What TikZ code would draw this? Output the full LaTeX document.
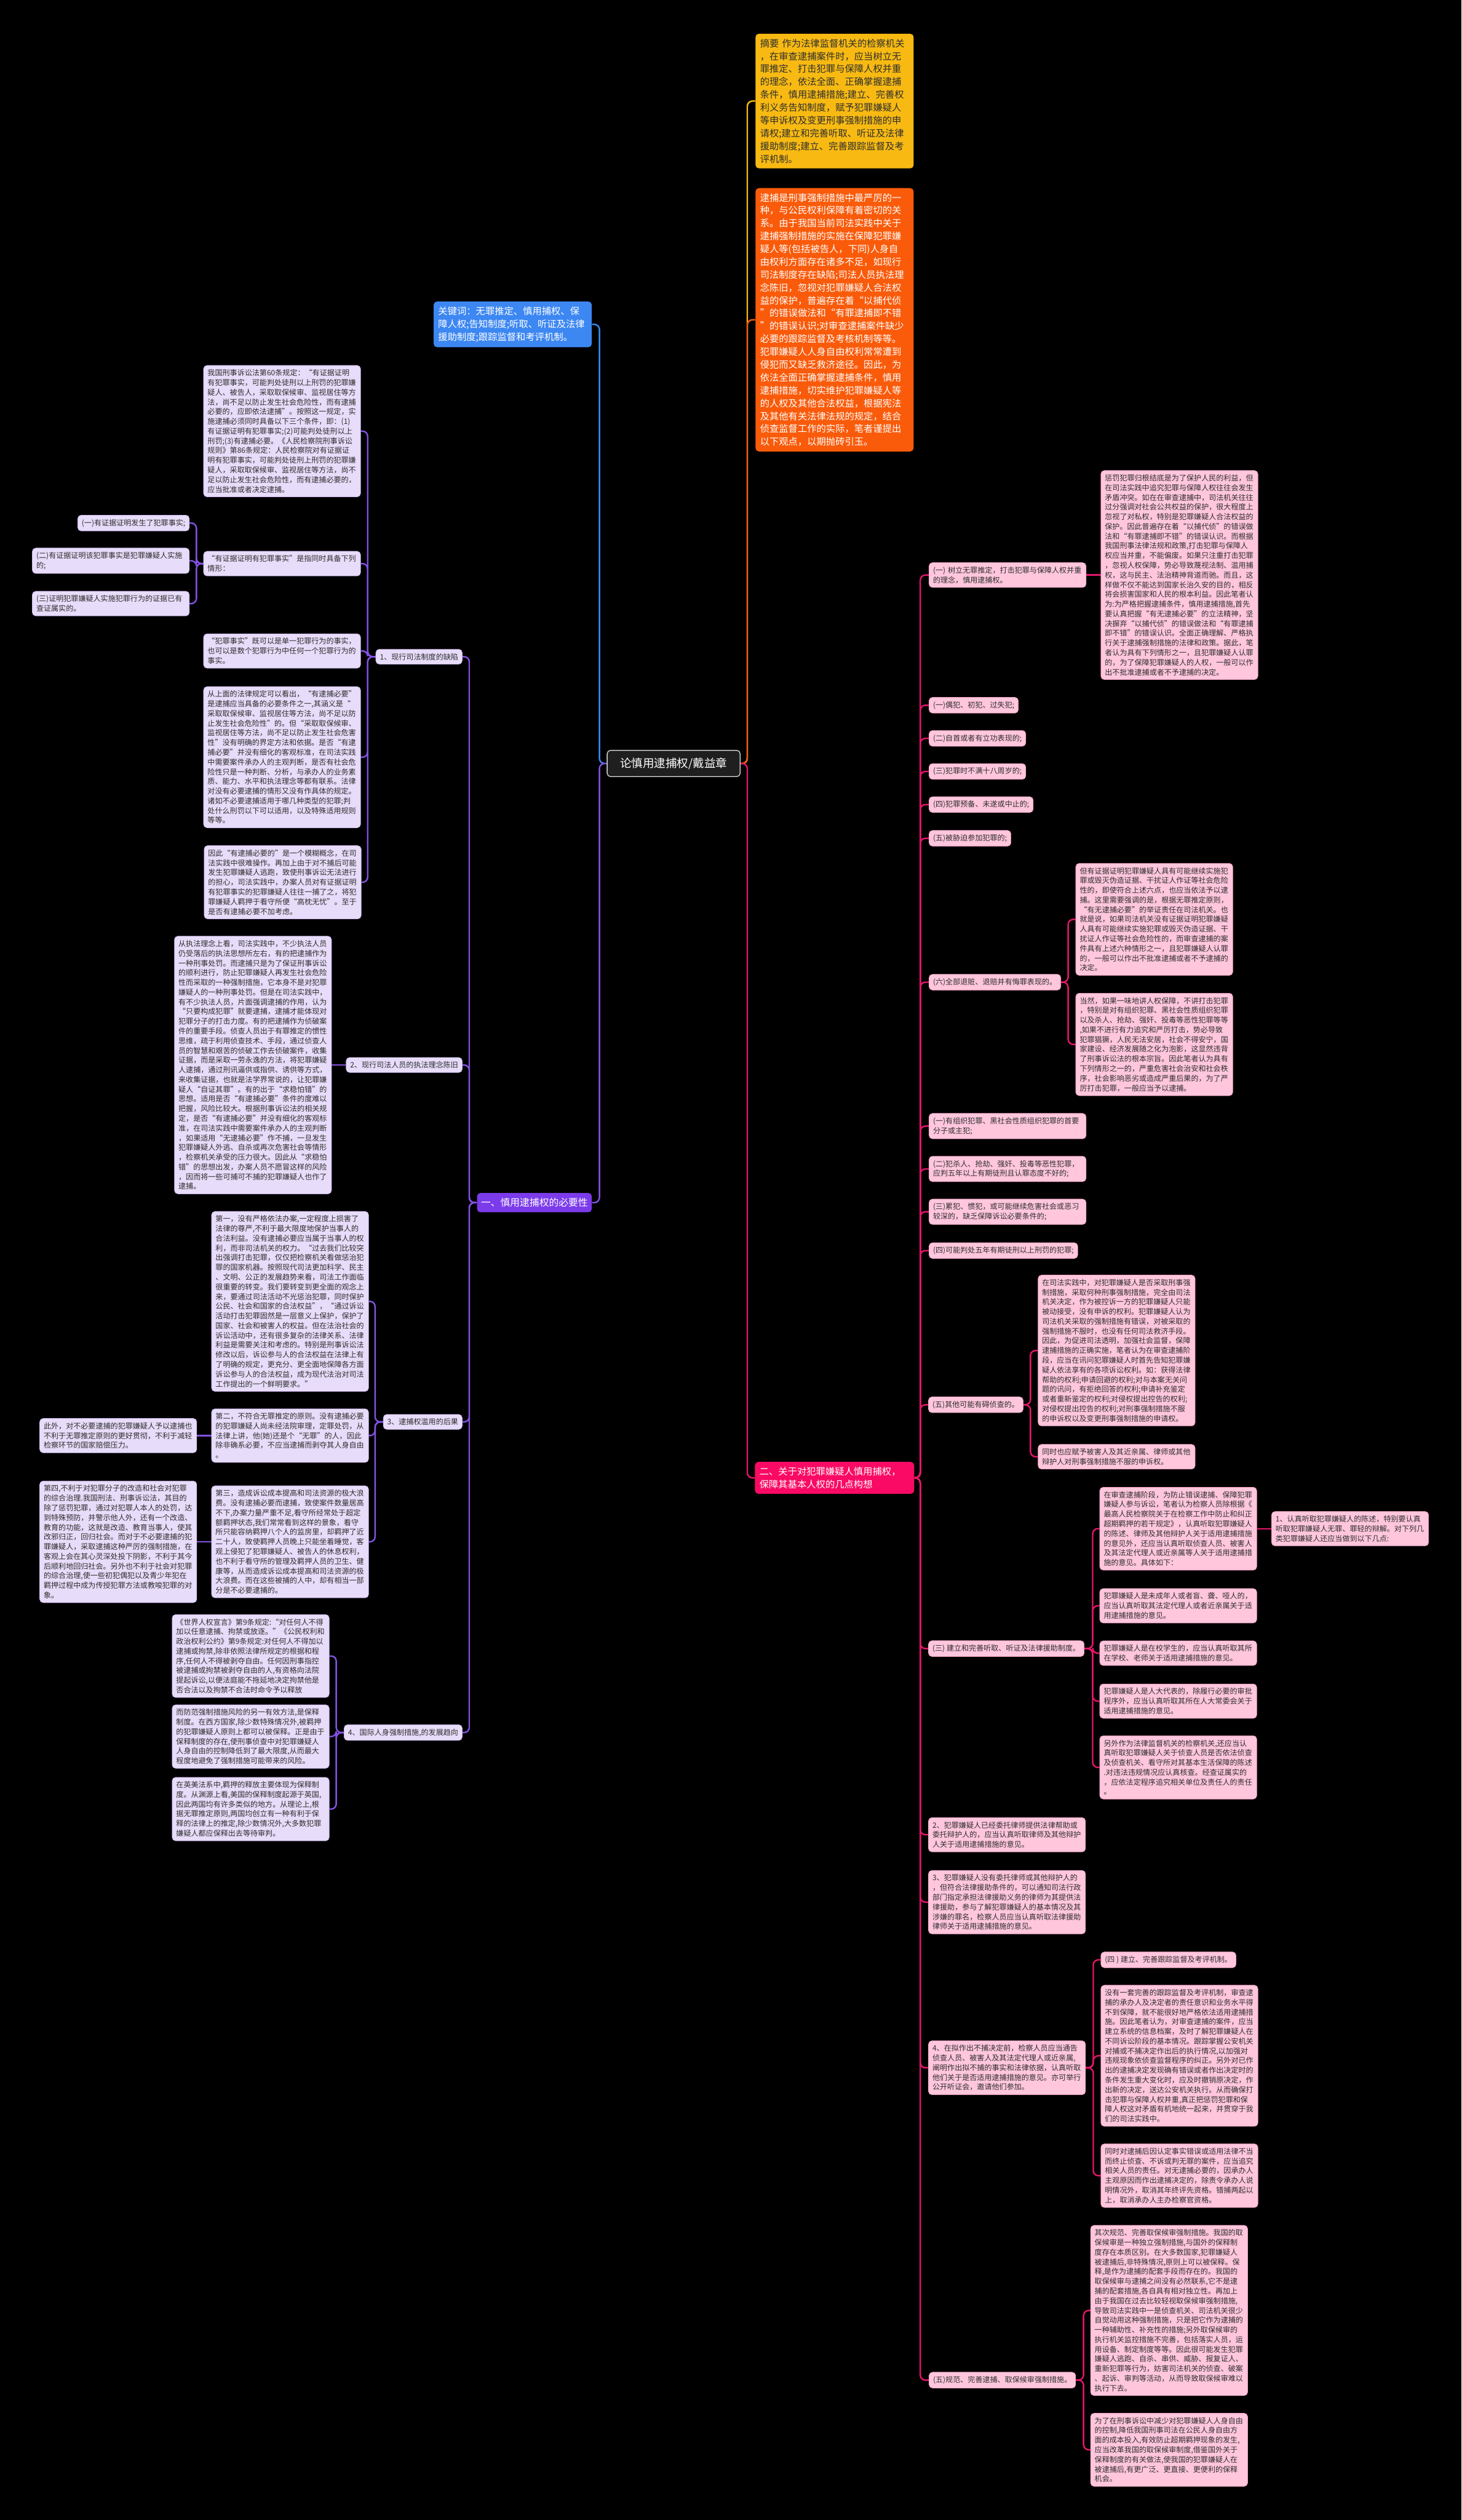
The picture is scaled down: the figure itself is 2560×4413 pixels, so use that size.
\documentclass[tikz,border=0pt]{standalone}
\usepackage{fontspec}
\setmainfont{Noto Sans CJK SC}
\usetikzlibrary{calc}
\pgfdeclarelayer{bgl}
\pgfdeclarelayer{lnl}
\pgfsetlayers{bgl,lnl,main}
\definecolor{lav}{HTML}{E7DCF9}
\definecolor{lavd}{HTML}{CDB8F2}
\definecolor{pk}{HTML}{FFC6DC}
\definecolor{pkd}{HTML}{F5A3C4}
\definecolor{txt}{HTML}{2E2E2E}
\definecolor{pur}{HTML}{8352E3}
\definecolor{purnode}{HTML}{7C3BEB}
\definecolor{crim}{HTML}{E5166A}
\definecolor{crimnode}{HTML}{FA0A64}
\definecolor{blu}{HTML}{3C87F2}
\definecolor{yel}{HTML}{F8BA12}
\definecolor{org}{HTML}{F95B0B}
\newcommand\mmL[4]{\draw[#1] (#2.west) -- (#2.west -| #3) -- (#4.east -| #3) -- (#4.east);}
\newcommand\mmR[4]{\draw[#1] (#2.east) -- (#2.east -| #3) -- (#4.west -| #3) -- (#4.west);}
\tikzset{
  bx/.style={rounded corners=6pt, inner xsep=7pt, inner ysep=7pt, align=left, line width=0.8pt},
  smtxt/.style={font=\fontsize{13}{17}\selectfont},
  lgtxt/.style={font=\fontsize{16.5}{22.5}\selectfont},
  lv/.style={bx, smtxt, anchor=east, fill=lav, draw=lavd, text=txt},
  pkb/.style={bx, smtxt, anchor=west, fill=pk, draw=pkd, text=txt},
  tw/.style={text width=261pt},
  bigb/.style={bx, lgtxt, inner xsep=8pt, inner ysep=9pt, text width=261pt},
  pl/.style={draw=pur, line width=2.6pt, rounded corners=9pt},
  cl/.style={draw=crim, line width=2.6pt, rounded corners=9pt},
}
\begin{document}
\begin{tikzpicture}[x=1pt,y=-1pt]
\begin{pgfonlayer}{bgl}
\fill[black] (0,0) rectangle (2560,4413);
\end{pgfonlayer}
\useasboundingbox (0,0) rectangle (2560,4413);

% ---------- root and main branches ----------
\node[bx, font=\fontsize{20}{24}\selectfont, fill=black!88!white, draw=white!85!black, line width=1.4pt, text=white, minimum width=233pt, minimum height=46pt, align=center, anchor=center] (root) at (1180,1337) {论慎用逮捕权/戴益章};

\node[bigb, anchor=east, fill=blu, text=white] (kw) at (1037,568) {关键词：无罪推定、慎用捕权、保\\障人权;告知制度;听取、听证及法律\\援助制度;跟踪监督和考评机制。};

\node[bigb, anchor=west, fill=yel, text=txt] (ysum) at (1323,177) {摘要 作为法律监督机关的检察机关\\，在审查逮捕案件时，应当树立无\\罪推定、打击犯罪与保障人权并重\\的理念，依法全面、正确掌握逮捕\\条件，慎用逮捕措施;建立、完善权\\利义务告知制度，赋予犯罪嫌疑人\\等申诉权及变更刑事强制措施的申\\请权;建立和完善听取、听证及法律\\援助制度;建立、完善跟踪监督及考\\评机制。};

\node[bigb, anchor=west, fill=org, text=white] (osum) at (1323,560) {逮捕是刑事强制措施中最严厉的一\\种，与公民权利保障有着密切的关\\系。由于我国当前司法实践中关于\\逮捕强制措施的实施在保障犯罪嫌\\疑人等(包括被告人，下同)人身自\\由权利方面存在诸多不足，如现行\\司法制度存在缺陷;司法人员执法理\\念陈旧，忽视对犯罪嫌疑人合法权\\益的保护，普遍存在着“以捕代侦\\”的错误做法和“有罪逮捕即不错\\”的错误认识;对审查逮捕案件缺少\\必要的跟踪监督及考核机制等等。\\犯罪嫌疑人人身自由权利常常遭到\\侵犯而又缺乏救济途径。因此，为\\依法全面正确掌握逮捕条件，慎用\\逮捕措施，切实维护犯罪嫌疑人等\\的人权及其他合法权益，根据宪法\\及其他有关法律法规的规定，结合\\侦查监督工作的实际，笔者谨提出\\以下观点，以期抛砖引玉。};

\node[bx, font=\fontsize{17}{22}\selectfont, anchor=east, fill=purnode, text=white, inner ysep=9pt] (yi) at (1037,2106) {一、慎用逮捕权的必要性};

\node[bigb, anchor=west, fill=crimnode, text=white, text width=263pt] (er) at (1322,2588) {二、关于对犯罪嫌疑人慎用捕权，\\保障其基本人权的几点构想};

% ---------- left: section one ----------
\node[lv] (n1) at (810,1150) {1、现行司法制度的缺陷};
\node[lv,tw] (a1) at (632,755) {我国刑事诉讼法第60条规定：“有证据证明\\有犯罪事实，可能判处徒刑以上刑罚的犯罪嫌\\疑人、被告人，采取取保候审、监视居住等方\\法，尚不足以防止发生社会危险性，而有逮捕\\必要的，应即依法逮捕”。按照这一规定，实\\施逮捕必须同时具备以下三个条件，即：(1)\\有证据证明有犯罪事实;(2)可能判处徒刑以上\\刑罚;(3)有逮捕必要。《人民检察院刑事诉讼\\规则》第86条规定：人民检察院对有证据证\\明有犯罪事实，可能判处徒刑上刑罚的犯罪嫌\\疑人，采取取保候审、监视居住等方法，尚不\\足以防止发生社会危险性，而有逮捕必要的，\\应当批准或者决定逮捕。};
\node[lv,tw] (a2) at (632,987) {“有证据证明有犯罪事实”是指同时具备下列\\情形：};
\node[lv] (b1) at (332,916) {(一)有证据证明发生了犯罪事实;};
\node[lv,tw] (b2) at (332,982) {(二)有证据证明该犯罪事实是犯罪嫌疑人实施\\的;};
\node[lv,tw] (b3) at (332,1057) {(三)证明犯罪嫌疑人实施犯罪行为的证据已有\\查证属实的。};
\node[lv,tw] (a3) at (632,1140) {“犯罪事实”既可以是单一犯罪行为的事实，\\也可以是数个犯罪行为中任何一个犯罪行为的\\事实。};
\node[lv,tw] (a4) at (632,1326) {从上面的法律规定可以看出，“有逮捕必要”\\是逮捕应当具备的必要条件之一,其涵义是“\\采取取保候审、监视居住等方法，尚不足以防\\止发生社会危险性”的。但“采取取保候审、\\监视居住等方法，尚不足以防止发生社会危害\\性”没有明确的界定方法和依据。是否“有逮\\捕必要”并没有细化的客观标准，在司法实践\\中需要案件承办人的主观判断，是否有社会危\\险性只是一种判断、分析，与承办人的业务素\\质、能力、水平和执法理念等都有联系。法律\\对没有必要逮捕的情形又没有作具体的规定。\\诸如不必要逮捕适用于哪几种类型的犯罪;判\\处什么刑罚以下可以适用，以及特殊适用规则\\等等。};
\node[lv,tw] (a5) at (633,1545) {因此“有逮捕必要的”是一个模糊概念，在司\\法实践中很难操作。再加上由于对不捕后可能\\发生犯罪嫌疑人逃跑，致使刑事诉讼无法进行\\的担心，司法实践中，办案人员对有证据证明\\有犯罪事实的犯罪嫌疑人往往一捕了之，将犯\\罪嫌疑人羁押于看守所便“高枕无忧”。至于\\是否有逮捕必要不加考虑。};

\node[lv] (n2) at (810,1865) {2、现行司法人员的执法理念陈旧};
\node[lv,tw] (c1) at (581,1865) {从执法理念上看，司法实践中，不少执法人员\\仍受落后的执法思想所左右，有的把逮捕作为\\一种刑事处罚。而逮捕只是为了保证刑事诉讼\\的顺利进行，防止犯罪嫌疑人再发生社会危险\\性而采取的一种强制措施，它本身不是对犯罪\\嫌疑人的一种刑事处罚。但是在司法实践中，\\有不少执法人员，片面强调逮捕的作用，认为\\“只要构成犯罪”就要逮捕，逮捕才能体现对\\犯罪分子的打击力度。有的把逮捕作为侦破案\\件的重要手段。侦查人员出于有罪推定的惯性\\思维，疏于利用侦查技术、手段，通过侦查人\\员的智慧和艰苦的侦破工作去侦破案件，收集\\证据，而是采取一劳永逸的方法，将犯罪嫌疑\\人逮捕，通过刑讯逼供或指供、诱供等方式，\\来收集证据，也就是法学界常说的，让犯罪嫌\\疑人“自证其罪”。有的出于“求稳怕错”的\\思想。适用是否“有逮捕必要”条件的度难以\\把握，风险比较大。根据刑事诉讼法的相关规\\定，是否“有逮捕必要”并没有细化的客观标\\准，在司法实践中需要案件承办人的主观判断\\，如果适用“无逮捕必要”作不捕，一旦发生\\犯罪嫌疑人外逃、自杀或再次危害社会等情形\\，检察机关承受的压力很大。因此从“求稳怕\\错”的思想出发，办案人员不愿冒这样的风险\\，因而将一些可捕可不捕的犯罪嫌疑人也作了\\逮捕。};

\node[lv] (n3) at (810,2490) {3、逮捕权滥用的后果};
\node[lv,tw] (d1) at (646,2279) {第一，没有严格依法办案,一定程度上损害了\\法律的尊严,不利于最大限度地保护当事人的\\合法利益。没有逮捕必要应当属于当事人的权\\利，而非司法机关的权力。“过去我们比较突\\出强调打击犯罪，仅仅把检察机关看做惩治犯\\罪的国家机器。按照现代司法更加科学、民主\\、文明、公正的发展趋势来看，司法工作面临\\很重要的转变。我们要转变到更全面的观念上\\来，要通过司法活动不光惩治犯罪，同时保护\\公民、社会和国家的合法权益”，“通过诉讼\\活动打击犯罪固然是一层意义上保护，保护了\\国家、社会和被害人的权益。但在法治社会的\\诉讼活动中，还有很多复杂的法律关系、法律\\利益是需要关注和考虑的。特别是刑事诉讼法\\修改以后，诉讼参与人的合法权益在法律上有\\了明确的规定，更充分、更全面地保障各方面\\诉讼参与人的合法权益，成为现代法治对司法\\工作提出的一个鲜明要求。”};
\node[lv,tw] (d2) at (646,2514) {第二，不符合无罪推定的原则。没有逮捕必要\\的犯罪嫌疑人尚未经法院审理，定罪处罚，从\\法律上讲，他(她)还是个“无罪”的人，因此\\除非确系必要，不应当逮捕而剥夺其人身自由\\。};
\node[lv,tw] (d2a) at (345,2514) {此外，对不必要逮捕的犯罪嫌疑人予以逮捕也\\不利于无罪推定原则的更好贯彻，不利于减轻\\检察环节的国家赔偿压力。};
\node[lv,tw] (d3) at (646,2700) {第三，造成诉讼成本提高和司法资源的极大浪\\费。没有逮捕必要而逮捕，致使案件数量居高\\不下,办案力量严重不足,看守所经常处于超定\\额羁押状态,我们常常看到这样的景象，看守\\所只能容纳羁押八个人的监房里，却羁押了近\\二十人，致使羁押人员晚上只能坐着睡觉，客\\观上侵犯了犯罪嫌疑人、被告人的休息权利，\\也不利于看守所的管理及羁押人员的卫生、健\\康等，从而造成诉讼成本提高和司法资源的极\\大浪费。而在这些被捕的人中，却有相当一部\\分是不必要逮捕的。};
\node[lv,tw] (d3a) at (345,2700) {第四,不利于对犯罪分子的改造和社会对犯罪\\的综合治理.我国刑法、刑事诉讼法，其目的\\除了惩罚犯罪，通过对犯罪人本人的处罚，达\\到特殊预防，并警示他人外，还有一个改造、\\教育的功能，这就是改造、教育当事人，使其\\改邪归正，回归社会。而对于不必要逮捕的犯\\罪嫌疑人，采取逮捕这种严厉的强制措施，在\\客观上会在其心灵深处投下阴影，不利于其今\\后顺利地回归社会。另外也不利于社会对犯罪\\的综合治理,使一些初犯偶犯以及青少年犯在\\羁押过程中成为传授犯罪方法或教唆犯罪的对\\象。};

\node[lv] (n4) at (810,3034) {4、国际人身强制措施,的发展趋向};
\node[lv,tw] (e1) at (577,2900) {《世界人权宣言》第9条规定:“对任何人不得\\加以任意逮捕、拘禁或放逐。”《公民权利和\\政治权利公约》第9条规定:对任何人不得加以\\逮捕或拘禁,除非依照法律所规定的根据和程\\序,任何人不得被剥夺自由。任何因刑事指控\\被逮捕或拘禁被剥夺自由的人,有资格向法院\\提起诉讼,以便法庭能不拖延地决定拘禁他是\\否合法以及拘禁不合法时命令予以释放};
\node[lv,tw] (e2) at (577,3041) {而防范强制措施风险的另一有效方法,是保释\\制度。在西方国家,除少数特殊情况外,被羁押\\的犯罪嫌疑人原则上都可以被保释。正是由于\\保释制度的存在,使刑事侦查中对犯罪嫌疑人\\人身自由的控制降低到了最大限度,从而最大\\程度地避免了强制措施可能带来的风险。};
\node[lv,tw] (e3) at (577,3168) {在英美法系中,羁押的释放主要体现为保释制\\度。从渊源上看,美国的保释制度起源于英国,\\因此两国均有许多类似的地方。从理论上,根\\据无罪推定原则,两国均创立有一种有利于保\\释的法律上的推定,除少数情况外,大多数犯罪\\嫌疑人都应保释出去等待审判。};

% ---------- right: section two ----------
\node[pkb,tw] (f1) at (1627,1007) {(一) 树立无罪推定，打击犯罪与保障人权并重\\的理念，慎用逮捕权。};
\node[pkb,tw] (f1a) at (1928,1007) {惩罚犯罪归根结底是为了保护人民的利益，但\\在司法实践中追究犯罪与保障人权往往会发生\\矛盾冲突。如在在审查逮捕中，司法机关往往\\过分强调对社会公共权益的保护，很大程度上\\忽视了对私权，特别是犯罪嫌疑人合法权益的\\保护。因此普遍存在着“以捕代侦”的错误做\\法和“有罪逮捕即不错”的错误认识。而根据\\我国刑事法律法规和政策,打击犯罪与保障人\\权应当并重，不能偏废。如果只注重打击犯罪\\，忽视人权保障，势必导致蔑视法制、滥用捕\\权，这与民主、法治精神背道而驰。而且，这\\样做不仅不能达到国家长治久安的目的，相反\\将会损害国家和人民的根本利益。因此笔者认\\为:为严格把握逮捕条件，慎用逮捕措施,首先\\要认真把握“有无逮捕必要”的立法精神，坚\\决摒弃“以捕代侦”的错误做法和“有罪逮捕\\即不错”的错误认识。全面正确理解、严格执\\行关于逮捕强制措施的法律和政策。据此，笔\\者认为具有下列情形之一，且犯罪嫌疑人认罪\\的，为了保障犯罪嫌疑人的人权，一般可以作\\出不批准逮捕或者不予逮捕的决定。};
\node[pkb] (f2) at (1627,1235) {(一)偶犯、初犯、过失犯;};
\node[pkb] (f3) at (1627,1293) {(二)自首或者有立功表现的;};
\node[pkb] (f4) at (1627,1351) {(三)犯罪时不满十八周岁的;};
\node[pkb] (f5) at (1627,1409) {(四)犯罪预备、未遂或中止的;};
\node[pkb] (f6) at (1627,1468) {(五)被胁迫参加犯罪的;};
\node[pkb] (f7) at (1627,1720) {(六)全部退赃、退赔并有悔罪表现的。};
\node[pkb,tw] (f7a) at (1884,1610) {但有证据证明犯罪嫌疑人具有可能继续实施犯\\罪或毁灭伪造证据、干扰证人作证等社会危险\\性的，即使符合上述六点，也应当依法予以逮\\捕。这里需要强调的是，根据无罪推定原则，\\“有无逮捕必要”的举证责任在司法机关。也\\就是说，如果司法机关没有证据证明犯罪嫌疑\\人具有可能继续实施犯罪或毁灭伪造证据、干\\扰证人作证等社会危险性的，而审查逮捕的案\\件具有上述六种情形之一，且犯罪嫌疑人认罪\\的，一般可以作出不批准逮捕或者不予逮捕的\\决定。};
\node[pkb,tw] (f7b) at (1884,1829) {当然，如果一味地讲人权保障，不讲打击犯罪\\，特别是对有组织犯罪、黑社会性质组织犯罪\\以及杀人、抢劫、强奸、投毒等恶性犯罪等等\\,如果不进行有力追究和严厉打击，势必导致\\犯罪猖獗，人民无法安居，社会不得安宁，国\\家建设、经济发展随之化为泡影，这显然违背\\了刑事诉讼法的根本宗旨。因此笔者认为具有\\下列情形之一的，严重危害社会治安和社会秩\\序，社会影响恶劣或造成严重后果的，为了严\\厉打击犯罪，一般应当予以逮捕。};
\node[pkb,tw] (f8) at (1627,1972) {(一)有组织犯罪、黑社会性质组织犯罪的首要\\分子或主犯;};
\node[pkb,tw] (f9) at (1627,2047) {(二)犯杀人、抢劫、强奸、投毒等恶性犯罪，\\应判五年以上有期徒刑且认罪态度不好的;};
\node[pkb,tw] (f10) at (1627,2122) {(三)累犯、惯犯，或可能继续危害社会或恶习\\较深的，缺乏保障诉讼必要条件的;};
\node[pkb] (f11) at (1627,2190) {(四)可能判处五年有期徒刑以上刑罚的犯罪;};
\node[pkb] (f12) at (1626,2460) {(五)其他可能有碍侦查的。};
\node[pkb,tw] (f12a) at (1818,2365) {在司法实践中，对犯罪嫌疑人是否采取刑事强\\制措施，采取何种刑事强制措施，完全由司法\\机关决定，作为被控诉一方的犯罪嫌疑人只能\\被动接受，没有申诉的权利。犯罪嫌疑人认为\\司法机关采取的强制措施有错误，对被采取的\\强制措施不服时，也没有任何司法救济手段。\\因此，为促进司法透明，加强社会监督，保障\\逮捕措施的正确实施，笔者认为在审查逮捕阶\\段，应当在讯问犯罪嫌疑人时首先告知犯罪嫌\\疑人依法享有的各项诉讼权利。如：获得法律\\帮助的权利;申请回避的权利;对与本案无关问\\题的讯问，有拒绝回答的权利;申请补充鉴定\\或者重新鉴定的权利;对侵权提出控告的权利;\\对侵权提出控告的权利;对刑事强制措施不服\\的申诉权以及变更刑事强制措施的申请权。};
\node[pkb,tw] (f12b) at (1818,2551) {同时也应赋予被害人及其近亲属、律师或其他\\辩护人对刑事强制措施不服的申诉权。};
\node[pkb] (f13) at (1626,2887) {(三) 建立和完善听取、听证及法律援助制度。};
\node[pkb,tw] (f13a) at (1926,2677) {在审查逮捕阶段，为防止错误逮捕、保障犯罪\\嫌疑人参与诉讼，笔者认为检察人员除根据《\\最高人民检察院关于在检察工作中防止和纠正\\超期羁押的若干规定》，认真听取犯罪嫌疑人\\的陈述、律师及其他辩护人关于适用逮捕措施\\的意见外，还应当认真听取侦查人员、被害人\\及其法定代理人或近亲属等人关于适用逮捕措\\施的意见。具体如下：};
\node[pkb,tw] (f13a1) at (2227,2677) {1、认真听取犯罪嫌疑人的陈述，特别要认真\\听取犯罪嫌疑人无罪、罪轻的辩解。对下列几\\类犯罪嫌疑人还应当做到以下几点:};
\node[pkb,tw] (f13b) at (1926,2812) {犯罪嫌疑人是未成年人或者盲、聋、哑人的，\\应当认真听取其法定代理人或者近亲属关于适\\用逮捕措施的意见。};
\node[pkb,tw] (f13c) at (1926,2895) {犯罪嫌疑人是在校学生的，应当认真听取其所\\在学校、老师关于适用逮捕措施的意见。};
\node[pkb,tw] (f13d) at (1926,2979) {犯罪嫌疑人是人大代表的，除履行必要的审批\\程序外，应当认真听取其所在人大常委会关于\\适用逮捕措施的意见。};
\node[pkb,tw] (f13e) at (1926,3095) {另外作为法律监督机关的检察机关,还应当认\\真听取犯罪嫌疑人关于侦查人员是否依法侦查\\及侦查机关、看守所对其基本生活保障的陈述\\.对违法违规情况应认真核查。经查证属实的\\，应依法定程序追究相关单位及责任人的责任\\。};
\node[pkb,tw] (f14) at (1626,3213) {2、犯罪嫌疑人已经委托律师提供法律帮助或\\委托辩护人的，应当认真听取律师及其他辩护\\人关于适用逮捕措施的意见。};
\node[pkb,tw] (f15) at (1626,3331) {3、犯罪嫌疑人没有委托律师或其他辩护人的\\，但符合法律援助条件的，可以通知司法行政\\部门指定承担法律援助义务的律师为其提供法\\律援助，参与了解犯罪嫌疑人的基本情况及其\\涉嫌的罪名，检察人员应当认真听取法律援助\\律师关于适用逮捕措施的意见。};
\node[pkb,tw] (f16) at (1626,3621) {4、在拟作出不捕决定前，检察人员应当通告\\侦查人员、被害人及其法定代理人或近亲属,\\阐明作出拟不捕的事实和法律依据，认真听取\\他们关于是否适用逮捕措施的意见。亦可举行\\公开听证会，邀请他们参加。};
\node[pkb] (f16a) at (1928,3432) {(四 ) 建立、完善跟踪监督及考评机制。};
\node[pkb,tw] (f16b) at (1928,3600) {没有一套完善的跟踪监督及考评机制，审查逮\\捕的承办人及决定者的责任意识和业务水平得\\不到保障，就不能很好地严格依法适用逮捕措\\施。因此笔者认为，对审查逮捕的案件，应当\\建立系统的信息档案，及时了解犯罪嫌疑人在\\不同诉讼阶段的基本情况。跟踪掌握公安机关\\对捕或不捕决定作出后的执行情况,以加强对\\违规现象依侦查监督程序的纠正。另外对已作\\出的逮捕决定发现确有错误或者作出决定时的\\条件发生重大变化时，应及时撤销原决定，作\\出新的决定，送达公安机关执行。从而确保打\\击犯罪与保障人权并重,真正把惩罚犯罪和保\\障人权这对矛盾有机地统一起来，并贯穿于我\\们的司法实践中。};
\node[pkb,tw] (f16c) at (1928,3810) {同时对逮捕后因认定事实错误或适用法律不当\\而终止侦查、不诉或判无罪的案件，应当追究\\相关人员的责任。对无逮捕必要的，因承办人\\主观原因而作出逮捕决定的，除责令承办人说\\明情况外，取消其年终评先资格。错捕两起以\\上，取消承办人主办检察官资格。};
\node[pkb] (f17) at (1627,4168) {(五)规范、完善逮捕、取保候审强制措施。};
\node[pkb,tw] (f17a) at (1910,4046) {其次规范、完善取保候审强制措施。我国的取\\保候审是一种独立强制措施,与国外的保释制\\度存在本质区别。在大多数国家,犯罪嫌疑人\\被逮捕后,非特殊情况,原则上可以被保释。保\\释,是作为逮捕的配套手段而存在的。我国的\\取保候审与逮捕之间没有必然联系,它不是逮\\捕的配套措施,各自具有相对独立性。再加上\\由于我国在过去比较轻视取保候审强制措施,\\导致司法实践中一是侦查机关、司法机关很少\\自觉动用这种强制措施，只是把它作为逮捕的\\一种辅助性、补充性的措施;另外取保候审的\\执行机关监控措施不完善，包括落实人员，运\\用设备、制定制度等等。因此很可能发生犯罪\\嫌疑人逃跑、自杀、串供、威胁、报复证人、\\重新犯罪等行为，妨害司法机关的侦查、破案\\、起诉、审判等活动，从而导致取保候审难以\\执行下去。};
\node[pkb,tw] (f17b) at (1910,4290) {为了在刑事诉讼中减少对犯罪嫌疑人人身自由\\的控制,降低我国刑事司法在公民人身自由方\\面的成本投入,有效防止超期羁押现象的发生,\\应当改革我国的取保候审制度,借鉴国外关于\\保释制度的有关做法,使我国的犯罪嫌疑人在\\被逮捕后,有更广泛、更直接、更便利的保释\\机会。};

% ---------- trunk coordinates ----------
\coordinate (RL) at (1050,0);
\coordinate (RR) at (1309,0);
\coordinate (T0) at (822,0);
\coordinate (T1) at (644,0);
\coordinate (T2) at (344,0);
\coordinate (T3) at (657,0);
\coordinate (T4) at (589,0);
\coordinate (P0) at (1612,0);
\coordinate (P7) at (1871,0);
\coordinate (P12) at (1805,0);
\coordinate (P13) at (1914,0);
\coordinate (P16) at (1915,0);
\coordinate (P17) at (1898,0);

% ---------- connectors ----------
\begin{pgfonlayer}{lnl}
\mmL{draw=blu, line width=2.6pt, rounded corners=9pt}{root}{RL}{kw}
\mmL{pl}{root}{RL}{yi}
\mmR{draw=yel, line width=2.6pt, rounded corners=9pt}{root}{RR}{ysum}
\mmR{draw=org, line width=2.6pt, rounded corners=9pt}{root}{RR}{osum}
\mmR{cl}{root}{RR}{er}

\foreach \c in {n1,n2,n3,n4} {\mmL{pl}{yi}{T0}{\c}}
\foreach \c in {a1,a2,a3,a4,a5} {\mmL{pl}{n1}{T1}{\c}}
\foreach \c in {b1,b2,b3} {\mmL{pl}{a2}{T2}{\c}}
\draw[pl] (n2.west) -- (c1.east);
\foreach \c in {d1,d2,d3} {\mmL{pl}{n3}{T3}{\c}}
\draw[pl] (d2.west) -- (d2a.east);
\draw[pl] (d3.west) -- (d3a.east);
\foreach \c in {e1,e2,e3} {\mmL{pl}{n4}{T4}{\c}}

\foreach \c in {f1,f2,f3,f4,f5,f6,f7,f8,f9,f10,f11,f12,f13,f14,f15,f16,f17} {\mmR{cl}{er}{P0}{\c}}
\draw[cl] (f1.east) -- (f1a.west);
\foreach \c in {f7a,f7b} {\mmR{cl}{f7}{P7}{\c}}
\foreach \c in {f12a,f12b} {\mmR{cl}{f12}{P12}{\c}}
\foreach \c in {f13a,f13b,f13c,f13d,f13e} {\mmR{cl}{f13}{P13}{\c}}
\draw[cl] (f13a.east) -- (f13a1.west);
\foreach \c in {f16a,f16b,f16c} {\mmR{cl}{f16}{P16}{\c}}
\foreach \c in {f17a,f17b} {\mmR{cl}{f17}{P17}{\c}}
\end{pgfonlayer}
\end{tikzpicture}
\end{document}
